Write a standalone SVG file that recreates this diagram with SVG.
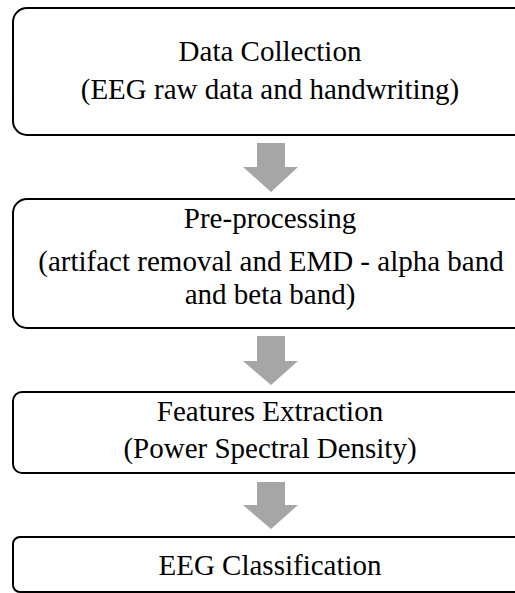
<svg xmlns="http://www.w3.org/2000/svg" width="515" height="593" viewBox="0 0 515 593">
<style>
.box{fill:#ffffff;stroke:#000000;stroke-width:2}
.t{font-family:'Liberation Serif','Times New Roman',serif;font-size:29px;fill:#000000;text-anchor:middle}
.arr{fill:#a6a6a6;stroke:none}
</style>
<rect width="515" height="593" fill="#ffffff"/>
<g id="n1">
<rect class="box" x="13" y="8" width="520" height="127" rx="14" ry="14"/>
<text class="t" x="270" y="61">Data Collection</text>
<text class="t" x="270" y="99">(EEG raw data and handwriting)</text>
</g>
<g id="n2">
<rect class="box" x="13" y="199" width="520" height="129" rx="14" ry="14"/>
<text class="t" x="270" y="228">Pre-processing</text>
<text class="t" x="271" y="271">(artifact removal and EMD - alpha band</text>
<text class="t" x="270" y="304">and beta band)</text>
</g>
<g id="n3">
<rect class="box" x="13" y="392" width="520" height="81" rx="9" ry="9"/>
<text class="t" x="270" y="421">Features Extraction</text>
<text class="t" x="270" y="458">(Power Spectral Density)</text>
</g>
<g id="n4">
<rect class="box" x="13" y="537" width="520" height="55" rx="7" ry="7"/>
<text class="t" x="270" y="575">EEG Classification</text>
</g>
<g id="connectors">
<polygon class="arr" points="257,143 285,143 285,167 298,167 271,192 243,167 257,167"/>
<polygon class="arr" points="257,336 285,336 285,361 298,361 271,385 243,361 257,361"/>
<polygon class="arr" points="257,482 285,482 285,505 298,505 271,529 243,505 257,505"/>
</g>
</svg>
